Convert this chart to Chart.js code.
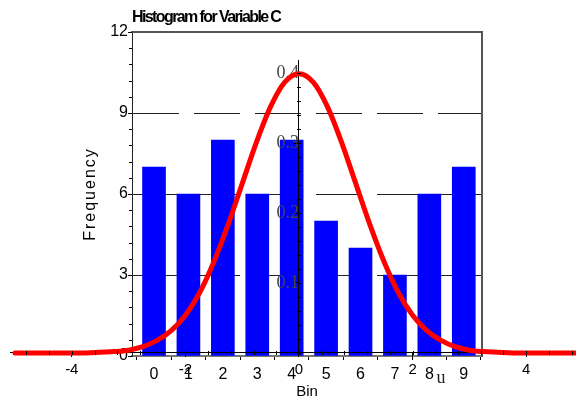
<!DOCTYPE html>
<html>
<head>
<meta charset="utf-8">
<script src="https://cdn.jsdelivr.net/npm/chart.js@4"></script>
<style>
  body { margin: 0; background: #fff; }
  #wrap { position: relative; width: 576px; height: 398px; }
  #wrap canvas { position: absolute; left: 0; top: 0; }
</style>
</head>
<body>
<div id="wrap">
  <canvas id="hist" width="576" height="398"></canvas>
  <canvas id="curve" width="576" height="398"></canvas>
</div>
<script>
// histogram
const bins = [0, 1, 2, 3, 4, 5, 6, 7, 8, 9];
const frequency = [7, 6, 8, 6, 8, 5, 4, 3, 6, 7];
const freqTicks = [0, 3, 6, 9, 12];

// overlaid density curve
const uValues = [-5, -4.75, -4.5, -4.25, -4, -3.75, -3.5, -3.25, -3, -2.75, -2.5, -2.25, -2, -1.75, -1.5, -1.25, -1, -0.75, -0.5, -0.25,
  0, 0.25, 0.5, 0.75, 1, 1.25, 1.5, 1.75, 2, 2.25, 2.5, 2.75, 3, 3.25, 3.5, 3.75, 4, 4.25, 4.5, 4.75, 5];
const density = [0, 0, 0, 0, 0, 0, 0.001, 0.002, 0.004, 0.009, 0.018, 0.032, 0.054, 0.086, 0.130, 0.183, 0.242, 0.301, 0.352, 0.387,
  0.399, 0.387, 0.352, 0.301, 0.242, 0.183, 0.130, 0.086, 0.054, 0.032, 0.018, 0.009, 0.004, 0.002, 0.001, 0, 0, 0, 0, 0, 0];
const uTicks = [-4, -2, 0, 2, 4];
const densityTicks = [0, 0.1, 0.2, 0.3, 0.4];

const SANS = '"Liberation Sans", Arial, sans-serif';
const SERIF = '"Liberation Serif", "Times New Roman", serif';

// small helper plugin for the minor tick marks
function minorTicks(list) {
  return {
    id: 'minorTicks',
    afterDraw(chart) {
      const ctx = chart.ctx;
      list.forEach(m => {
        const s = chart.scales[m.scale];
        const at = m.at(chart);
        ctx.save();
        ctx.strokeStyle = '#000';
        ctx.lineWidth = 1;
        ctx.beginPath();
        for (let k = Math.ceil(s.min / m.step); k <= Math.floor(s.max / m.step); k++) {
          const p = Math.round(s.getPixelForValue(k * m.step)) + 0.5;
          if (s.isHorizontal()) { ctx.moveTo(p, at + m.from); ctx.lineTo(p, at + m.to); }
          else { ctx.moveTo(at + m.from, p); ctx.lineTo(at + m.to, p); }
        }
        ctx.stroke();
        ctx.restore();
      });
    }
  };
}

// letter spacing tweaks: tight title, airy "Frequency" like the original
function spaced(chart, obj, method, spacing) {
  if (!obj || obj['_sp_' + method]) return;
  const orig = obj[method].bind(obj);
  obj[method] = function (...args) {
    chart.ctx.save();
    chart.ctx.letterSpacing = spacing;
    orig(...args);
    chart.ctx.restore();
  };
  obj['_sp_' + method] = true;
}
const letterSpacing = {
  id: 'letterSpacing',
  afterLayout(chart) {
    spaced(chart, chart.titleBlock, 'draw', '-1.6px');
    spaced(chart, chart.scales.y, 'drawTitle', '2px');
  }
};

new Chart(document.getElementById('hist'), {
  type: 'bar',
  data: {
    datasets: [{
      data: bins.map((b, i) => ({ x: b, y: frequency[i] })),
      backgroundColor: '#0000FF',
      borderWidth: 0,
      barThickness: 23
    }]
  },
  options: {
    responsive: false,
    animation: false,
    layout: { padding: { left: 0, right: 94, top: 0, bottom: 0 } },
    plugins: {
      legend: { display: false },
      tooltip: { enabled: false },
      title: {
        display: true,
        text: 'Histogram for Variable C',
        align: 'start',
        fullSize: false,
        color: '#000',
        font: { family: SANS, size: 16, weight: 'bold', lineHeight: 1 },
        padding: { top: 10, bottom: 6 }
      }
    },
    scales: {
      x: {
        type: 'linear',
        offset: false,
        min: -0.64,
        max: 9.53,
        afterBuildTicks: s => { s.ticks = bins.map(v => ({ value: v })); },
        afterFit: s => { s.height = 42; },
        ticks: { color: '#000', font: { family: SANS, size: 16 }, padding: 5 },
        grid: { drawOnChartArea: false, drawTicks: true, tickLength: 4, tickColor: '#000', tickBorderDash: [] },
        border: { color: '#777', width: 2 },
        title: {
          display: true, text: 'Bin', color: '#000',
          font: { family: SANS, size: 15, lineHeight: 1 },
          padding: { top: 0, bottom: -1 }
        }
      },
      y: {
        min: 0,
        max: 12,
        afterBuildTicks: s => { s.ticks = freqTicks.map(v => ({ value: v })); },
        afterFit: s => { s.width = 132; },
        ticks: { color: '#000', font: { family: SANS, size: 16 }, padding: 0 },
        grid: {
          color: c => (c.tick && c.tick.value > 0 && c.tick.value < 12) ? '#222' : 'rgba(0,0,0,0)',
          lineWidth: 1,
          tickLength: 4,
          tickColor: '#000',
          tickBorderDash: []
        },
        border: { color: '#222', width: 1, dash: [46, 15] },
        title: {
          display: true, text: 'Frequency', color: '#000',
          font: { family: SANS, size: 16, lineHeight: 1.1 },
          padding: { top: 82, bottom: 0 }
        }
      },
      x2: {
        type: 'linear', position: 'top',
        ticks: { display: false },
        grid: { display: false, drawTicks: false },
        border: { color: '#555', width: 2 }
      },
      y2: {
        type: 'linear', position: 'right',
        ticks: { display: false },
        grid: { display: false, drawTicks: false },
        border: { color: '#555', width: 2 }
      }
    }
  },
  plugins: [
    letterSpacing,
    minorTicks([{ scale: 'y', step: 0.6, at: c => c.chartArea.left, from: -3, to: 0 }])
  ]
});

new Chart(document.getElementById('curve'), {
  type: 'line',
  data: {
    datasets: [{
      data: uValues.map((u, i) => ({ x: u, y: density[i] })),
      borderColor: '#FF0000',
      borderWidth: 5,
      pointRadius: 0,
      cubicInterpolationMode: 'monotone',
      borderCapStyle: 'round',
      borderJoinStyle: 'round',
      clip: false
    }]
  },
  options: {
    responsive: false,
    animation: false,
    layout: { padding: { left: 10, right: 0, top: 60, bottom: 42 } },
    plugins: { legend: { display: false }, tooltip: { enabled: false } },
    scales: {
      x: {
        type: 'linear',
        position: { y: 0 },
        min: -5.088,
        max: 4.877,
        afterBuildTicks: s => { s.ticks = uTicks.map(v => ({ value: v })); },
        ticks: { color: '#000', font: { family: SANS, size: 15 }, padding: 4 },
        grid: { drawOnChartArea: false, tickLength: 4, tickColor: '#000' },
        border: { color: '#000', width: 1 }
      },
      y: {
        type: 'linear',
        position: { x: 0 },
        min: -0.0043,
        max: 0.4186,
        afterBuildTicks: s => { s.ticks = densityTicks.map(v => ({ value: v })); },
        ticks: {
          color: '#444',
          font: { family: SERIF, size: 18 },
          padding: 0,
          callback: v => (v === 0 ? '' : v.toFixed(1))
        },
        grid: { drawOnChartArea: false, tickLength: 4, tickColor: '#000' },
        border: { color: '#000', width: 1 }
      }
    }
  },
  plugins: [
    minorTicks([
      { scale: 'x', step: 0.4, at: c => c.scales.y.getPixelForValue(0), from: -2, to: 2 },
      { scale: 'y', step: 0.02, at: c => c.scales.x.getPixelForValue(0), from: -2, to: 2 }
    ]),
    {
      id: 'uTitle',
      afterDraw(chart) {
        const ctx = chart.ctx;
        ctx.save();
        ctx.fillStyle = '#222';
        ctx.font = '18px ' + SERIF;
        ctx.textAlign = 'center';
        ctx.textBaseline = 'middle';
        ctx.fillText('u', chart.scales.x.getPixelForValue(2.5), 378);
        ctx.restore();
      }
    }
  ]
});
</script>
</body>
</html>
